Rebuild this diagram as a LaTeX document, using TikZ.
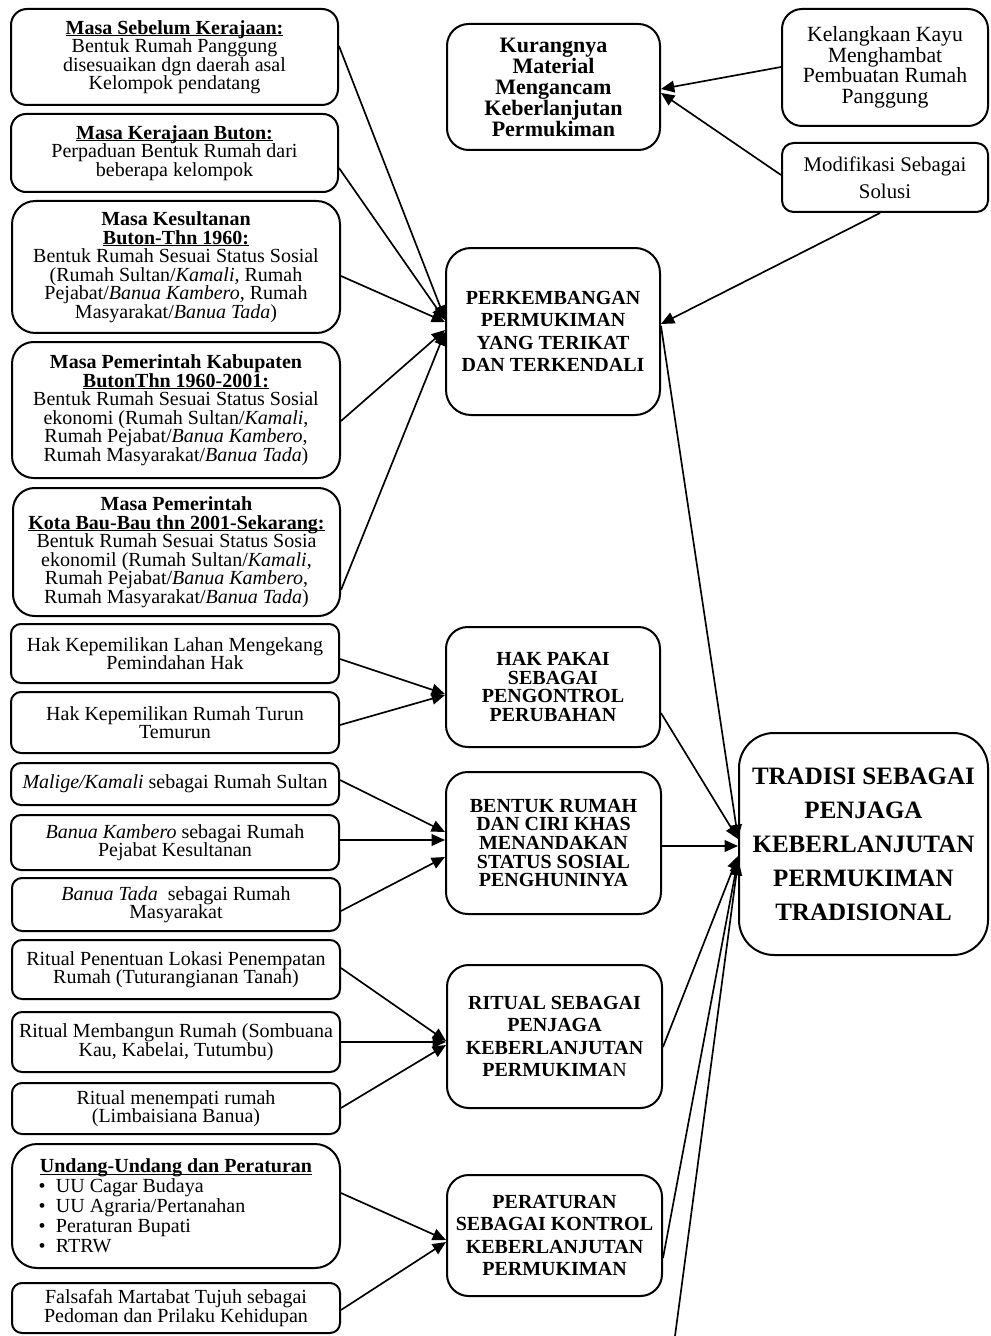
\documentclass[tikz,border=0pt]{standalone}
\usepackage{fontspec}
\setmainfont{Liberation Serif}
\usetikzlibrary{arrows.meta}
\newcommand\tightls{\lineskiplimit=-30pt\relax}
\newcommand\ulx[1]{\setbox0\hbox{#1}\rlap{\rule[-1.1pt]{\wd0}{0.6pt}}\box0}
\begin{document}
\begin{tikzpicture}[x=0.6pt,y=-0.6pt,
  box/.style={draw, line width=1.2pt, align=center, inner sep=0pt, fill=white},
  lft/.style={box, font={\fontsize{12}{11.1}\selectfont\tightls}},
  mid/.style={box, font={\bfseries\fontsize{12}{13.5}\selectfont\tightls}},
  midt/.style={box, font={\bfseries\fontsize{12}{11.2}\selectfont\tightls}},
  arr/.style={-{Triangle[length=8pt,width=7pt]}, line width=1pt}]
\useasboundingbox (0,0) rectangle (990,1336);

% ---------- left column ----------
\node[lft, rounded corners=9.6pt, minimum width=196.2pt, minimum height=57.6pt] (L1) at (174.5,57)
 {\ulx{\textbf{Masa Sebelum Kerajaan:}}\\ Bentuk Rumah Panggung\\ disesuaikan dgn daerah asal\\ Kelompok pendatang};
\node[lft, rounded corners=9pt, minimum width=196.2pt, minimum height=46.8pt] (L2) at (174.5,153)
 {\ulx{\textbf{Masa Kerajaan Buton:}}\\ Perpaduan Bentuk Rumah dari\\ beberapa kelompok};
\node[lft, rounded corners=14pt, minimum width=196.8pt, minimum height=79.2pt] (L3) at (176,267)
 {\textbf{Masa Kesultanan}\\ \ulx{\textbf{Buton-Thn 1960:}}\\ Bentuk Rumah Sesuai Status Sosial\\ (Rumah Sultan/\textit{Kamali}, Rumah\\ Pejabat/\textit{Banua Kambero}, Rumah\\ Masyarakat/\textit{Banua Tada})};
\node[lft, rounded corners=13pt, minimum width=196.8pt, minimum height=81.6pt] (L4) at (176,410)
 {\textbf{Masa Pemerintah Kabupaten}\\ \ulx{\textbf{ButonThn 1960-2001:}}\\ Bentuk Rumah Sesuai Status Sosial\\ ekonomi (Rumah Sultan/\textit{Kamali},\\ Rumah Pejabat/\textit{Banua Kambero},\\ Rumah Masyarakat/\textit{Banua Tada})};
\node[lft, rounded corners=13pt, minimum width=196.2pt, minimum height=76.8pt] (L5) at (176.5,552)
 {\textbf{Masa Pemerintah}\\ \ulx{\textbf{Kota Bau-Bau thn 2001-Sekarang:}}\\ Bentuk Rumah Sesuai Status Sosia\\ ekonomil (Rumah Sultan/\textit{Kamali},\\ Rumah Pejabat/\textit{Banua Kambero},\\ Rumah Masyarakat/\textit{Banua Tada})};
\node[lft, rounded corners=6pt, minimum width=196.8pt, minimum height=35.4pt] (L6) at (175,653.5)
 {Hak Kepemilikan Lahan Mengekang\\ Pemindahan Hak};
\node[lft, rounded corners=6pt, minimum width=196.8pt, minimum height=36.6pt] (L7) at (175,722.5)
 {Hak Kepemilikan Rumah Turun\\ Temurun};
\node[lft, rounded corners=6pt, minimum width=196.8pt, minimum height=25.2pt] (L8) at (175,784)
 {\textit{Malige/Kamali} sebagai Rumah Sultan};
\node[lft, rounded corners=6pt, minimum width=196.8pt, minimum height=33pt] (L9) at (175,842.5)
 {\textit{Banua Kambero} sebagai Rumah\\ Pejabat Kesultanan};
\node[lft, rounded corners=6pt, minimum width=196.8pt, minimum height=31.8pt] (L10) at (176,904.5)
 {\textit{Banua Tada}\ \ sebagai Rumah\\ Masyarakat};
\node[lft, rounded corners=6pt, minimum width=196.8pt, minimum height=35.4pt] (L11) at (176,969.5)
 {Ritual Penentuan Lokasi Penempatan\\ Rumah (Tuturangianan Tanah)};
\node[lft, rounded corners=6pt, minimum width=196.8pt, minimum height=36pt] (L12) at (176,1042)
 {Ritual Membangun Rumah (Sombuana\\ Kau, Kabelai, Tutumbu)};
\node[lft, rounded corners=6pt, minimum width=196.8pt, minimum height=30.6pt] (L13) at (176,1108.5)
 {Ritual menempati rumah\\ (Limbaisiana Banua)};
\node[box, font={\fontsize{12}{12}\selectfont\tightls}, rounded corners=15pt, minimum width=196.8pt, minimum height=74.4pt] (L14) at (176,1206)
 {\ulx{\textbf{Undang-Undang dan Peraturan}}\\
  \makebox[196.8pt][l]{\hspace*{16pt}\makebox[10.4pt][l]{\textbullet}UU Cagar Budaya}\\
  \makebox[196.8pt][l]{\hspace*{16pt}\makebox[10.4pt][l]{\textbullet}UU Agraria/Pertanahan}\\
  \makebox[196.8pt][l]{\hspace*{16pt}\makebox[10.4pt][l]{\textbullet}Peraturan Bupati}\\
  \makebox[196.8pt][l]{\hspace*{16pt}\makebox[10.4pt][l]{\textbullet}RTRW}};
\node[lft, rounded corners=6pt, minimum width=196.8pt, minimum height=30pt] (L15) at (176,1308)
 {Falsafah Martabat Tujuh sebagai\\ Pedoman dan Prilaku Kehidupan};

% ---------- middle column ----------
\node[box, font={\bfseries\fontsize{13.2}{12.6}\selectfont\tightls}, rounded corners=13pt, minimum width=127.8pt, minimum height=75.6pt] (M1) at (553.5,87)
 {Kurangnya\\ Material\\ Mengancam\\ Keberlanjutan\\ Permukiman};
\node[mid, rounded corners=15pt, minimum width=128.4pt, minimum height=100.2pt] (M2) at (553,331.5)
 {PERKEMBANGAN\\ PERMUKIMAN\\ YANG TERIKAT\\ DAN TERKENDALI};
\node[midt, rounded corners=13pt, minimum width=128.4pt, minimum height=72pt] (M3) at (553,687)
 {HAK PAKAI\\ SEBAGAI\\ PENGONTROL\\ PERUBAHAN};
\node[midt, rounded corners=13pt, minimum width=129pt, minimum height=85.2pt] (M4) at (553.5,843)
 {BENTUK RUMAH\\ DAN CIRI KHAS\\ MENANDAKAN\\ STATUS SOSIAL\\ PENGHUNINYA};
\node[mid, rounded corners=13pt, minimum width=129pt, minimum height=85.8pt] (M5) at (554.5,1036.5)
 {RITUAL SEBAGAI\\ PENJAGA\\ KEBERLANJUTAN\\ PERMUKIMA{\mdseries N}};
\node[mid, rounded corners=13pt, minimum width=129pt, minimum height=72.6pt] (M6) at (554.5,1235.5)
 {PERATURAN\\ SEBAGAI KONTROL\\ KEBERLANJUTAN\\ PERMUKIMAN};

% ---------- right column ----------
\node[box, font={\fontsize{13}{12.3}\selectfont\tightls}, rounded corners=12pt, minimum width=123.6pt, minimum height=70.2pt] (R1) at (885,67.5)
 {Kelangkaan Kayu\\ Menghambat\\ Pembuatan Rumah\\ Panggung};
\node[box, font={\fontsize{12.5}{16}\selectfont\tightls}, rounded corners=7pt, minimum width=123.6pt, minimum height=41.4pt] (R2) at (885,177.5)
 {Modifikasi Sebagai\\ Solusi};
\node[box, font={\bfseries\fontsize{15}{20.4}\selectfont\tightls}, rounded corners=21pt, minimum width=149.4pt, minimum height=133.2pt] (T) at (863.5,844)
 {TRADISI SEBAGAI\\ PENJAGA\\ KEBERLANJUTAN\\ PERMUKIMAN\\ TRADISIONAL};

\coordinate (bot) at (675,1336);

% ---------- connectors ----------
\draw[arr] (R1.west |- 0,67) -- (M1.east |- 0,89);
\draw[arr] (R2.west |- 0,175) -- (M1.east |- 0,93);
\draw[arr] (R2.south -| 880,0) -- (M2.east |- 0,324);

\draw[arr] (L1.east |- 0,46) -- (M2.west |- 0,319);
\draw[arr] (L2.east |- 0,168) -- (M2.west |- 0,320);
\draw[arr] (L3.east |- 0,276) -- (M2.west |- 0,322);
\draw[arr] (L4.east |- 0,421) -- (M2.west |- 0,330);
\draw[arr] (L5.east |- 0,590) -- (M2.west |- 0,332);

\draw[arr] (L6.east |- 0,659) -- (M3.west |- 0,694);
\draw[arr] (L7.east |- 0,725) -- (M3.west |- 0,695);

\draw[arr] (L8.east |- 0,780) -- (M4.west |- 0,832);
\draw[arr] (L9.east |- 0,840) -- (M4.west |- 0,840);
\draw[arr] (L10.east |- 0,911) -- (M4.west |- 0,857);

\draw[arr] (L11.east |- 0,968) -- (M5.west |- 0,1041);
\draw[arr] (L12.east |- 0,1042) -- (M5.west |- 0,1042);
\draw[arr] (L13.east |- 0,1108) -- (M5.west |- 0,1045);

\draw[arr] (L14.east |- 0,1193) -- (M6.west |- 0,1240);
\draw[arr] (L15.east |- 0,1310) -- (M6.west |- 0,1242);

\draw[arr] (M2.east |- 0,326) -- (T.west |- 0,838);
\draw[arr] (M3.east |- 0,713) -- (T.west |- 0,839);
\draw[arr] (M4.east |- 0,846) -- (T.west |- 0,846);
\draw[arr] (M5.east |- 0,1047) -- (T.west |- 0,856);
\draw[arr] (M6.east |- 0,1258) -- (T.west |- 0,859);
\draw[arr] (bot) -- (T.west |- 0,862);
\end{tikzpicture}
\end{document}
